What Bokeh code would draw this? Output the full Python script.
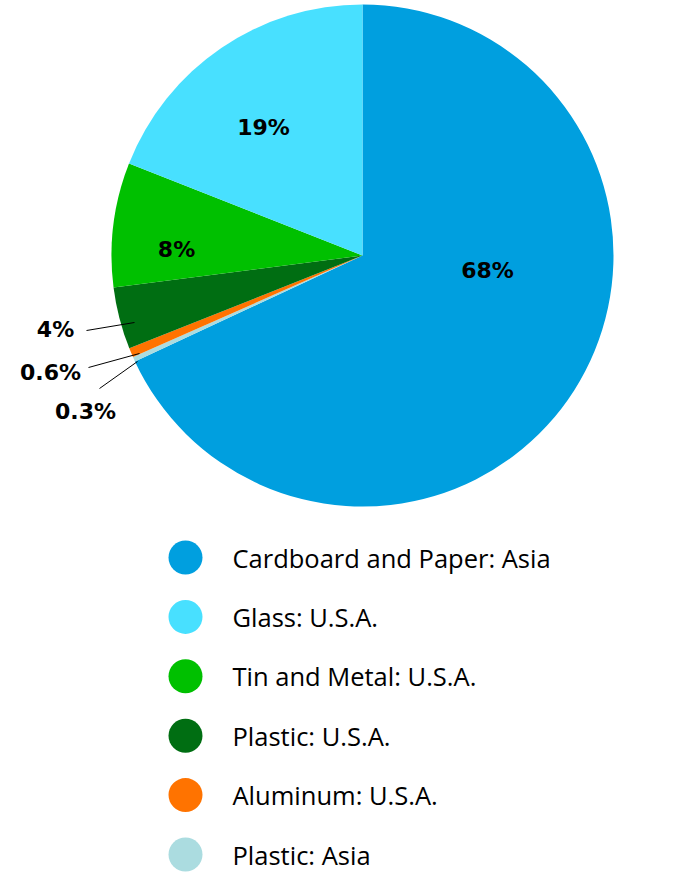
import math
from bokeh.plotting import figure
from bokeh.models import Range1d
from bokeh.core.properties import value
from bokeh.embed import file_html
from bokeh.resources import INLINE

# ---- data (clockwise from 12 o'clock) ----
categories = ["Cardboard and Paper: Asia", "Plastic: Asia", "Aluminum: U.S.A.",
              "Plastic: U.S.A.", "Tin and Metal: U.S.A.", "Glass: U.S.A."]
shares = [68, 0.3, 0.6, 4, 8, 19]
labels = ["68%", "0.3%", "0.6%", "4%", "8%", "19%"]
colors = ["#009FDF", "#ABDCE0", "#FF7300", "#006E12", "#00C000", "#48E0FF"]

legend_order = ["Cardboard and Paper: Asia", "Glass: U.S.A.", "Tin and Metal: U.S.A.",
                "Plastic: U.S.A.", "Aluminum: U.S.A.", "Plastic: Asia"]

# ---- layout (image pixel coords) ----
W, H = 679, 879
def fx(ix): return ix
def fy(iy): return H - iy

CX, CY, R = 362, 255, 251
label_pos = {  # label text centre
    "68%": (487, 270), "19%": (263, 127), "8%": (176, 249),
    "4%": (55, 329), "0.6%": (50, 372), "0.3%": (85, 411),
}
leaders = {  # (from, to)
    "4%": ((86, 330), (134, 322)),
    "0.6%": ((88, 367), (139, 353)),
    "0.3%": ((99, 388), (137, 361)),
}
LEG_X, LEG_TX, LEG_Y0, LEG_DY = 185, 232, 557, 59.4

p = figure(width=W, height=H, output_backend="svg", toolbar_location=None,
           x_range=Range1d(0, W), y_range=Range1d(0, H), min_border=0)
p.axis.visible = False
p.grid.visible = False
p.outline_line_color = None
p.background_fill_color = "white"

total = sum(shares)
cum = 0.0
starts, ends = [], []
for s in shares:
    a0 = math.pi / 2 - 2 * math.pi * cum / total
    cum += s
    a1 = math.pi / 2 - 2 * math.pi * cum / total
    starts.append(a0)
    ends.append(a1)

p.wedge(x=fx(CX), y=fy(CY), radius=R, start_angle=starts, end_angle=ends,
        direction="clock", fill_color=colors, line_color=None)

for lab in labels:
    x, y = label_pos[lab]
    p.text(x=[fx(x)], y=[fy(y)], text=[lab], text_font=value("DejaVu Sans"),
           text_font_style="bold", text_font_size="22px", text_color="black",
           text_align="center", text_baseline="middle")
for lab, ((x0, y0), (x1, y1)) in leaders.items():
    p.segment(x0=[fx(x0)], y0=[fy(y0)], x1=[fx(x1)], y1=[fy(y1)],
              line_color="black", line_width=1)

for i, name in enumerate(legend_order):
    c = colors[categories.index(name)]
    yy = LEG_Y0 + i * LEG_DY
    p.scatter(x=[fx(LEG_X)], y=[fy(yy)], size=34, marker="circle",
              fill_color=c, line_color=None)
    p.text(x=[fx(LEG_TX)], y=[fy(yy)], text=[name], text_font=value("Open Sans"),
           text_font_size="25.5px", text_color="black",
           text_align="left", text_baseline="middle")

open("out.html", "w").write(file_html(p, INLINE))
